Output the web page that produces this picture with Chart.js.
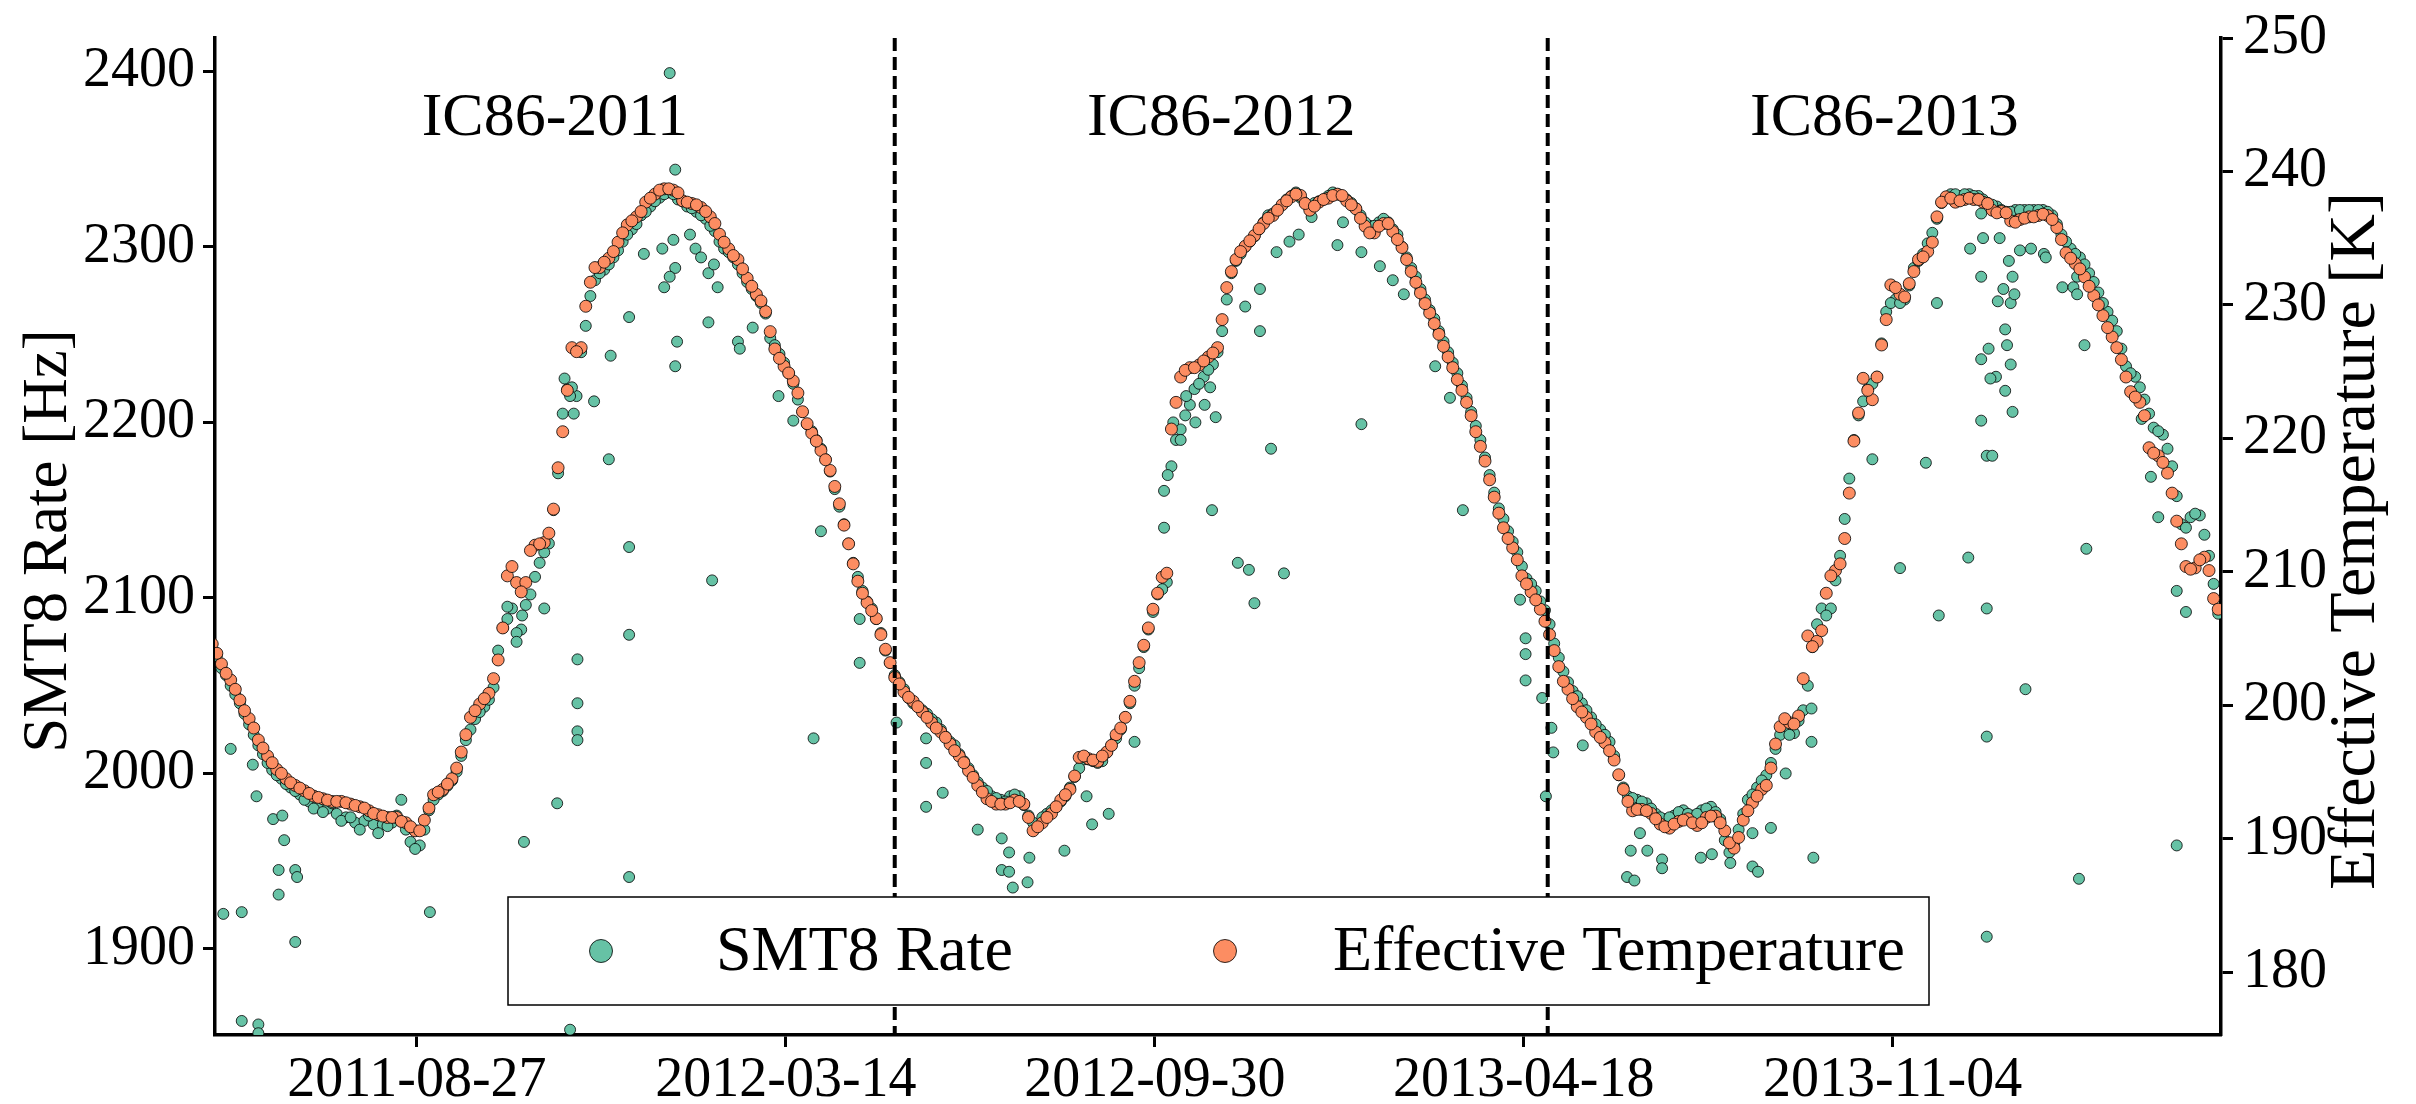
<!DOCTYPE html>
<html>
<head>
<meta charset="utf-8">
<script src="https://cdn.jsdelivr.net/npm/chart.js@4.4.1/dist/chart.umd.min.js"></script>
<style>
  html, body { margin: 0; padding: 0; background: #fff; }
  canvas { display: block; }
</style>
</head>
<body>
<canvas id="rateChart" width="2416" height="1104"></canvas>
<script>
// days are counted from 2011-05-13 (start of IC86-2011)
// each series is read every 5 days, plus a second pass offset by 2.5 days

// Effective temperature [K]
const tempDaysFrom = -5;
const tempValues = [
  204.6, 203.1, 201.9, 200.4, 199.0, 197.4, 196.2, 195.2, 194.5, 194.0,
  193.6, 193.2, 193.0, 192.8, 192.8, 192.6, 192.4, 192.1, 191.8, 191.6,
  191.6, 191.2, 190.6, 191.4, 193.3, 193.7, 194.5, 196.5, 199.1, 200.1,
  200.9, 203.4, 209.7, 209.2, 209.2, 212.0, 212.2, 214.7, 220.5, 226.8,
  226.8, 231.7, 232.8, 233.5, 234.7, 236.0, 236.6, 237.7, 238.3, 238.7,
  238.6, 237.8, 237.6, 237.3, 236.6, 235.3, 234.2, 233.4, 232.0, 230.8,
  229.5, 226.7, 225.4, 224.3, 222.0, 220.4, 219.1, 217.6, 215.1, 212.1,
  209.3, 207.7, 206.5, 204.2, 202.1, 201.0, 200.3, 199.5, 198.7, 198.0,
  197.1, 196.2, 195.1, 194.0, 193.0, 192.6, 192.6, 192.9, 192.6, 190.6,
  191.2, 191.9, 192.9, 193.7, 196.1, 196.0, 195.8, 196.5, 197.8, 199.1,
  201.8, 204.5, 207.2, 209.6, 220.7, 224.6, 225.3, 225.5, 226.1, 226.8,
  231.3, 233.4, 234.4, 235.2, 236.1, 236.7, 237.5, 238.1, 238.2, 237.1,
  237.7, 238.0, 238.3, 237.8, 237.2, 235.9, 235.4, 236.1, 235.5, 234.3,
  232.5, 230.9, 229.4, 227.8, 226.1, 224.4, 222.7, 220.5, 218.3, 215.6,
  213.3, 211.8, 209.7, 208.5, 207.2, 205.3, 202.9, 201.2, 199.9, 199.1,
  198.0, 197.2, 195.9, 193.7, 192.1, 192.2, 191.9, 191.1, 190.8, 191.3,
  191.5, 191.0, 191.6, 191.7, 190.6, 189.3, 191.4, 192.7, 193.7, 195.3,
  198.4, 198.7, 199.2, 205.2, 204.8, 208.4, 210.1, 212.5, 219.8, 224.5,
  222.9, 227.0, 231.5, 230.8, 231.6, 233.4, 234.0, 236.6, 238.1, 237.7,
  237.9, 237.9, 237.7, 237.1, 237.0, 236.3, 236.4, 236.6, 236.7, 236.7,
  235.8, 233.9, 233.1, 232.1, 230.7, 229.2, 227.6, 225.9, 223.5, 222.7,
  219.3, 218.7, 217.4, 213.8, 210.4, 210.3, 211.1, 208.0
];
const tempMidDaysFrom = -2.5;
const tempMidValues = [
  203.9, 202.4, 201.2, 199.6, 198.3, 196.8, 195.7, 194.9, 194.2, 193.8,
  193.4, 193.1, 192.9, 192.8, 192.7, 192.5, 192.3, 191.9, 191.7, 191.6,
  191.3, 190.9, 190.6, 192.3, 193.5, 194.1, 195.3, 197.8, 199.6, 200.5,
  202.0, 205.8, 210.4, 208.5, 211.6, 212.1, 212.9, 217.8, 223.6, 226.5,
  229.9, 232.8, 233.2, 234.0, 235.4, 236.3, 237.0, 238.0, 238.6, 238.7,
  238.4, 237.7, 237.5, 237.0, 236.1, 234.7, 233.7, 232.7, 231.4, 230.3,
  228.0, 226.0, 224.9, 223.4, 221.1, 219.8, 218.4, 216.4, 213.5, 210.6,
  208.4, 207.1, 205.3, 203.2, 201.6, 200.6, 199.9, 199.1, 198.3, 197.6,
  196.6, 195.7, 194.6, 193.5, 192.8, 192.6, 192.7, 192.8, 191.6, 190.9,
  191.6, 192.4, 193.3, 194.7, 196.2, 195.9, 196.2, 197.0, 198.3, 200.3,
  203.2, 205.8, 208.4, 209.9, 222.7, 225.1, 225.3, 225.8, 226.4, 228.9,
  232.5, 234.0, 234.8, 235.7, 236.5, 237.1, 237.8, 238.3, 237.6, 237.4,
  237.9, 238.2, 238.2, 237.5, 236.5, 235.4, 235.9, 236.1, 234.9, 233.4,
  231.7, 230.1, 228.6, 226.9, 225.3, 223.6, 221.7, 219.4, 216.9, 214.4,
  212.5, 210.9, 209.1, 207.9, 206.3, 204.1, 201.8, 200.5, 199.5, 198.6,
  197.6, 196.6, 194.8, 192.8, 192.2, 192.1, 191.5, 190.9, 191.1, 191.4,
  191.2, 191.2, 191.7, 191.2, 189.7, 190.1, 192.1, 193.2, 194.0, 197.1,
  199.0, 198.6, 202.0, 204.4, 205.6, 209.7, 210.6, 215.9, 221.9, 223.6,
  224.6, 228.9, 231.3, 230.6, 232.5, 233.6, 234.7, 237.7, 238.0, 237.8,
  238.0, 237.9, 237.6, 236.9, 236.9, 236.2, 236.5, 236.6, 236.8, 236.4,
  234.9, 233.5, 232.7, 231.4, 230.0, 228.3, 226.8, 224.6, 223.1, 221.7,
  218.9, 218.2, 215.9, 212.1, 210.2, 210.9, 210.1, 207.2
];

// SMT8 rate [Hz], main band
const rateDaysFrom = -2.5;
const rateValues = [
  2067, 2056, 2045, 2034, 2022, 2011, 2002, 1997, 1992, 1988,
  1984, 1983, 1980, 1977, 1975, 1972, 1973, 1971, 1971, 1972,
  1985, 1961, 1959, 1979, 1988, 1993, 2001, 2019, 2031, 2038,
  2049, 2083, 2094, 2082, 2102, 2120, 2131, 2171, 2219, 2215,
  2255, 2281, 2287, 2294, 2303, 2310, 2318, 2323, 2328, 2331,
  2327, 2323, 2320, 2316, 2309, 2299, 2294, 2285, 2276, 2268,
  2248, 2239, 2228, 2213, 2199, 2190, 2179, 2162, 2142, 2120,
  2104, 2094, 2080, 2063, 2052, 2043, 2038, 2034, 2029, 2021,
  2016, 2007, 1999, 1992, 1987, 1985, 1987, 1987, 1976, 1970,
  1977, 1981, 1987, 1998, 2008, 2007, 2007, 2016, 2025, 2040,
  2060, 2082, 2102, 2109, 2190, 2204, 2219, 2226, 2233, 2252,
  2285, 2296, 2303, 2310, 2318, 2321, 2327, 2331, 2325, 2325,
  2327, 2331, 2329, 2325, 2318, 2312, 2314, 2314, 2307, 2294,
  2283, 2270, 2259, 2246, 2234, 2221, 2206, 2190, 2170, 2151,
  2138, 2126, 2111, 2104, 2093, 2074, 2058, 2047, 2040, 2032,
  2025, 2018, 1999, 1987, 1985, 1983, 1977, 1974, 1976, 1979,
  1976, 1979, 1981, 1974, 1955, 1968, 1985, 1992, 1999, 2014,
  2025, 2023, 2036, 2072, 2094, 2094, 2124, 2168, 2204, 2219,
  2226, 2263, 2270, 2270, 2288, 2296, 2308, 2325, 2330, 2329,
  2330, 2329, 2325, 2323, 2320, 2321, 2321, 2321, 2321, 2318,
  2307, 2299, 2294, 2285, 2274, 2263, 2252, 2232, 2226, 2213,
  2197, 2193, 2175, 2142, 2146, 2147, 2124, 2091
];
const rateMidDaysFrom = -5;
const rateMidValues = [
  2070, 2060, 2050, 2040, 2028, 2016, 2006, 1999, 1994, 1990,
  1985, 1980, 1978, 1983, 1973, 1975, 1968, 1976, 1966, 1970,
  1976, 1968, 1957, 1968, 1985, 1990, 1996, 2010, 2025, 2035,
  2042, 2070, 2088, 2080, 2096, 2112, 2126, 2150, 2205, 2220,
  2240, 2272, 2285, 2290, 2298, 2307, 2313, 2320, 2326, 2330,
  2330, 2326, 2322, 2318, 2312, 2303, 2297, 2290, 2280, 2272,
  2262, 2244, 2234, 2222, 2206, 2195, 2185, 2172, 2152, 2131,
  2112, 2098, 2088, 2070, 2056, 2048, 2040, 2036, 2031, 2025,
  2018, 2011, 2003, 1995, 1990, 1986, 1984, 1988, 1982, 1972,
  1975, 1979, 1984, 1992, 2003, 2008, 2006, 2012, 2020, 2032,
  2050, 2072, 2092, 2105, 2175, 2196, 2210, 2222, 2230, 2240,
  2270, 2292, 2300, 2306, 2314, 2319, 2324, 2329, 2328, 2322,
  2326, 2329, 2330, 2327, 2322, 2314, 2312, 2316, 2310, 2300,
  2288, 2276, 2264, 2252, 2240, 2228, 2214, 2198, 2180, 2160,
  2145, 2132, 2118, 2108, 2098, 2085, 2066, 2052, 2044, 2036,
  2028, 2022, 2010, 1992, 1986, 1984, 1980, 1975, 1975, 1978,
  1977, 1977, 1980, 1978, 1962, 1960, 1977, 1988, 1996, 2006,
  2022, 2022, 2030, 2050, 2085, 2090, 2110, 2145, 2190, 2212,
  2222, 2245, 2268, 2268, 2278, 2292, 2302, 2316, 2328, 2330,
  2330, 2329, 2327, 2324, 2321, 2320, 2321, 2321, 2321, 2320,
  2313, 2303, 2296, 2290, 2280, 2268, 2258, 2242, 2228, 2220,
  2205, 2195, 2185, 2158, 2140, 2148, 2136, 2108
];

// SMT8 rate points off the main band
const rateOutlierDays = [
  1, 11, 5, 17, 19, 28, 33, 34, 31, 31, 40, 41, 40, 11, 20, 20, 113, 164, 182, 175,
  193, 193, 193, 193, 221, 221, 221, 210, 189, 221, 202, 211, 229, 239, 240,
  243, 246, 245, 246, 243, 247, 246, 254, 257, 260, 264, 264, 267, 269, 280, 281, 288, 266,
  302, 310, 325, 321, 346, 346, 366, 382, 382, 391, 382, 410, 423, 427, 423, 427, 429,
  437, 438, 457, 472, 481, 469,
  495, 511, 511, 537, 539, 551, 557, 560, 569, 576, 563, 563, 555, 572, 579, 584, 591,
  605, 608, 618, 628, 635, 641, 618, 658, 666, 673, 704, 707, 707, 707, 716, 721, 722, 718,
  738, 764, 762, 766, 769, 773, 781, 781, 802, 808, 818, 830, 833, 840, 830, 848, 862,
  862, 863, 895, 910, 924, 931, 930,
  947, 957, 957, 957, 978, 1007, 1060, 1011, 1010, 1050, 1046, 1060, 1065, 954, 957, 960,
  971, 967, 962, 959, 954, 958, 970, 967, 968, 963, 970, 972, 966, 954, 971, 948, 955,
  964, 969, 975, 981, 988, 989, 998, 1004, 1006, 954, 1041, 1006,
  155, 160, 163, 186, 189, 191, 513, 516, 520, 523, 528, 533, 536
];
const rateOutlierValues = [
  1920, 1921, 2014, 2005, 1987, 1974, 1976, 1962, 1945, 1931, 1945, 1941, 1904, 1859, 1857, 1852, 1921, 1961, 1983, 2094,
  2065, 2040, 2024, 2019, 2129, 2079, 1941, 2179, 1854, 2260, 2212, 2238, 2296, 2299, 2277,
  2399, 2344, 2304, 2288, 2283, 2246, 2232, 2307, 2299, 2294, 2285, 2257, 2290, 2277, 2246, 2242, 2254, 2110,
  2215, 2201, 2138, 2020, 2088, 2063, 2029, 2020, 2006, 1989, 1981, 1968, 1963, 1955, 1945, 1944, 1935,
  1938, 1952, 1956, 1971, 1977, 1987,
  2018, 2161, 2140, 2150, 2203, 2120, 2116, 2097, 2185, 2114, 2252, 2276, 2266, 2297, 2303, 2307, 2317,
  2301, 2314, 2297, 2289, 2281, 2273, 2199, 2232, 2214, 2150, 2099, 2077, 2053, 2068, 2043, 2026, 2012, 1987,
  2016, 1956, 1941, 1939, 1966, 1956, 1951, 1946, 1952, 1954, 1949, 1947, 1944, 1969, 1966, 2000, 2018,
  2037, 1952, 2179, 2117, 2177, 2090, 2268,
  2123, 2094, 2021, 1907, 2048, 1940, 1959, 2128, 2244, 2146, 2169, 2104, 2092, 2201, 2181, 2181,
  2206, 2218, 2226, 2225, 2236, 2242, 2233, 2253, 2244, 2269, 2268, 2273, 2276, 2283, 2283, 2299, 2305,
  2305, 2292, 2298, 2299, 2296, 2294, 2277, 2277, 2273, 2319, 2202, 2283,
  2095, 2075, 2090, 2225, 2215, 2205, 2170, 2200, 2190, 2215, 2200, 2210, 2220
];

const seasonBreakDays = [365, 719];
const seasonLabels = ['IC86-2011', 'IC86-2012', 'IC86-2013'];
const xTickDays = [106, 306, 506, 706, 906];
const xTickLabels = ['2011-08-27', '2012-03-14', '2012-09-30', '2013-04-18', '2013-11-04'];
const rateTicks = [1900, 2000, 2100, 2200, 2300, 2400];
const tempTicks = [180, 190, 200, 210, 220, 230, 240, 250];

const serif = "'Liberation Serif', 'DejaVu Serif', serif";
const greenColor = '#66c2a5';
const orangeColor = '#fc8d62';
const edgeColor = 'rgba(0, 0, 0, 0.8)';
const stepDays = 5;

function stepPoints(start, values) {
  return values.map((v, i) => ({ x: start + i * stepDays, y: v }));
}

const ratePoints = stepPoints(rateDaysFrom, rateValues)
  .concat(stepPoints(rateMidDaysFrom, rateMidValues))
  .concat(rateOutlierDays.map((d, i) => ({ x: d, y: rateOutlierValues[i] })));
const tempPoints = stepPoints(tempDaysFrom, tempValues)
  .concat(stepPoints(tempMidDaysFrom, tempMidValues));

// season lines, season names, legend box and rotated axis titles
const overlayPlugin = {
  id: 'overlay',
  afterDatasetsDraw(chart) {
    const { ctx, chartArea, scales } = chart;
    const x = scales.x;
    const y = scales.y;
    ctx.save();

    ctx.strokeStyle = '#000';
    ctx.lineWidth = 4;
    ctx.setLineDash([13, 6]);
    seasonBreakDays.forEach(d => {
      const px = x.getPixelForValue(d);
      ctx.beginPath();
      ctx.moveTo(px, chartArea.top);
      ctx.lineTo(px, chartArea.bottom);
      ctx.stroke();
    });
    ctx.setLineDash([]);

    const edges = [x.min].concat(seasonBreakDays, [x.max]);
    ctx.fillStyle = '#000';
    ctx.font = '62px ' + serif;
    ctx.textAlign = 'center';
    ctx.textBaseline = 'alphabetic';
    seasonLabels.forEach((label, i) => {
      ctx.fillText(label, x.getPixelForValue((edges[i] + edges[i + 1]) / 2), y.getPixelForValue(2364));
    });

    // legend
    const box = { left: 508, top: 897, right: 1929, bottom: 1005 };
    const midY = (box.top + box.bottom) / 2;
    ctx.fillStyle = '#fff';
    ctx.fillRect(box.left, box.top, box.right - box.left, box.bottom - box.top);
    ctx.strokeStyle = '#000';
    ctx.lineWidth = 1.5;
    ctx.strokeRect(box.left, box.top, box.right - box.left, box.bottom - box.top);
    const entries = [
      { color: greenColor, text: 'SMT8 Rate', mx: 601, tx: 716 },
      { color: orangeColor, text: 'Effective Temperature', mx: 1225, tx: 1333 }
    ];
    entries.forEach(e => {
      ctx.beginPath();
      ctx.arc(e.mx, midY, 11.5, 0, Math.PI * 2);
      ctx.fillStyle = e.color;
      ctx.fill();
      ctx.lineWidth = 1;
      ctx.strokeStyle = edgeColor;
      ctx.stroke();
      ctx.fillStyle = '#000';
      ctx.font = '64px ' + serif;
      ctx.textAlign = 'left';
      ctx.textBaseline = 'middle';
      ctx.fillText(e.text, e.tx, midY + 2);
    });
    ctx.restore();
  },
  afterDraw(chart) {
    const { ctx } = chart;
    const midY = 541;
    ctx.save();
    ctx.fillStyle = '#000';
    ctx.textAlign = 'center';
    ctx.textBaseline = 'middle';
    [[49, 'SMT8 Rate [Hz]', 63], [2357, 'Effective Temperature [K]', 66]].forEach(([cx, text, size]) => {
      ctx.save();
      ctx.font = size + 'px ' + serif;
      ctx.translate(cx, midY);
      ctx.rotate(-Math.PI / 2);
      ctx.fillText(text, 0, 0);
      ctx.restore();
    });
    ctx.restore();
  }
};

function axisGrid() {
  return { display: true, drawOnChartArea: false, drawTicks: true, tickLength: 12, tickWidth: 3, tickColor: '#000', color: '#000' };
}

new Chart(document.getElementById('rateChart'), {
  type: 'scatter',
  data: {
    datasets: [{
      label: 'SMT8 Rate',
      data: ratePoints,
      yAxisID: 'y',
      order: 1,
      pointRadius: 5.5,
      pointBackgroundColor: greenColor,
      pointBorderColor: edgeColor,
      pointBorderWidth: 1,
    }, {
      label: 'Effective Temperature',
      data: tempPoints,
      yAxisID: 'y1',
      order: 0,
      pointRadius: 6,
      pointBackgroundColor: orangeColor,
      pointBorderColor: edgeColor,
      pointBorderWidth: 1,
    }]
  },
  options: {
    responsive: false,
    animation: false,
    devicePixelRatio: 1,
    events: [],
    layout: { padding: { top: 38, left: 0, right: 0, bottom: 0 } },
    plugins: {
      legend: { display: false },
      tooltip: { enabled: false },
      title: { display: false },
    },
    scales: {
      x: {
        type: 'linear',
        min: -3.5,
        max: 1084,
        grid: axisGrid(),
        border: { display: true, width: 3.5, color: '#000' },
        ticks: {
          font: { family: serif, size: 56, lineHeight: 1 },
          color: '#000',
          padding: 6,
          maxRotation: 0,
          autoSkip: false,
          callback: function(value, index) { return xTickLabels[index]; }
        },
        afterBuildTicks: function(scale) { scale.ticks = xTickDays.map(v => ({ value: v })); },
        afterFit: function(scale) { scale.height = 69; }
      },
      y: {
        type: 'linear',
        position: 'left',
        min: 1851,
        max: 2419,
        grid: axisGrid(),
        border: { display: true, width: 3.5, color: '#000' },
        ticks: {
          font: { family: serif, size: 56, lineHeight: 1 },
          color: '#000',
          padding: 8,
          callback: function(value) { return String(value); }
        },
        afterBuildTicks: function(scale) { scale.ticks = rateTicks.map(v => ({ value: v })); },
        afterFit: function(scale) { scale.width = 215; }
      },
      y1: {
        type: 'linear',
        position: 'right',
        min: 175.3,
        max: 250,
        grid: axisGrid(),
        border: { display: true, width: 3.5, color: '#000' },
        ticks: {
          font: { family: serif, size: 56, lineHeight: 1 },
          color: '#000',
          padding: 10,
          callback: function(value) { return String(value); }
        },
        afterBuildTicks: function(scale) { scale.ticks = tempTicks.map(v => ({ value: v })); },
        afterFit: function(scale) { scale.width = 195; }
      }
    }
  },
  plugins: [overlayPlugin]
});
</script>
</body>
</html>
